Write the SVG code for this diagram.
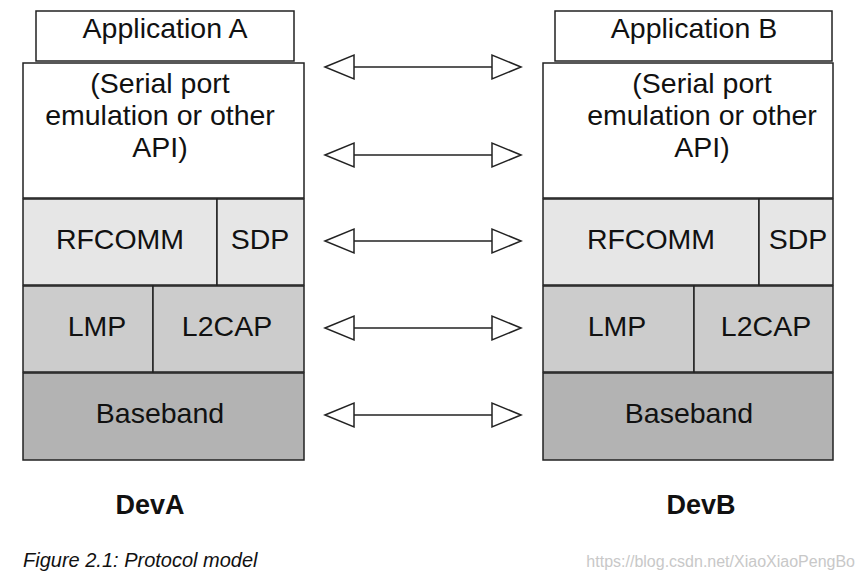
<svg xmlns="http://www.w3.org/2000/svg" width="865" height="583" viewBox="0 0 865 583">
<defs>
<style>
.b{stroke:#222;stroke-width:1.5}
.w{fill:#fff}
.l1{fill:#e6e6e6}
.l2{fill:#cccccc}
.l3{fill:#b3b3b3}
.t{font-family:"Liberation Sans",Arial,sans-serif;font-size:28.5px;fill:#111;text-anchor:middle}
.d{font-family:"Liberation Sans",Arial,sans-serif;font-size:27px;font-weight:bold;fill:#111;text-anchor:middle}
.c{stroke:#222;stroke-width:1.5;fill:none}
.h{stroke:#222;stroke-width:1.5;fill:#fff}
</style>
</defs>
<rect width="865" height="583" fill="#fff"/>
<g id="devA">
<g id="appA"><rect class="b w" x="36" y="11" width="258" height="50"/><text class="t" x="165" y="38">Application A</text></g>
<g id="apiA"><rect class="b w" x="23" y="63" width="281" height="135"/><text class="t" x="160" y="93">(Serial port</text><text class="t" x="160" y="125">emulation or other</text><text class="t" x="160" y="157">API)</text></g>
<g id="rfcommA"><rect class="b l1" x="23" y="199" width="194" height="86"/><text class="t" x="120" y="249">RFCOMM</text></g>
<g id="sdpA"><rect class="b l1" x="217" y="199" width="87" height="86"/><text class="t" x="260" y="249">SDP</text></g>
<g id="lmpA"><rect class="b l2" x="23" y="286" width="130" height="86"/><text class="t" x="97" y="336">LMP</text></g>
<g id="l2capA"><rect class="b l2" x="153" y="286" width="151" height="86"/><text class="t" x="227" y="336">L2CAP</text></g>
<g id="basebandA"><rect class="b l3" x="23" y="373" width="281" height="87"/><text class="t" x="160" y="423">Baseband</text></g>
</g>
<g id="devB">
<g id="appB"><rect class="b w" x="555" y="11" width="277" height="50"/><text class="t" x="694" y="38">Application B</text></g>
<g id="apiB"><rect class="b w" x="543" y="63" width="290" height="135"/><text class="t" x="702" y="93">(Serial port</text><text class="t" x="702" y="125">emulation or other</text><text class="t" x="702" y="157">API)</text></g>
<g id="rfcommB"><rect class="b l1" x="543" y="199" width="216" height="86"/><text class="t" x="651" y="249">RFCOMM</text></g>
<g id="sdpB"><rect class="b l1" x="759" y="199" width="74" height="86"/><text class="t" x="798" y="249">SDP</text></g>
<g id="lmpB"><rect class="b l2" x="543" y="286" width="151" height="86"/><text class="t" x="617" y="336">LMP</text></g>
<g id="l2capB"><rect class="b l2" x="694" y="286" width="139" height="86"/><text class="t" x="766" y="336">L2CAP</text></g>
<g id="basebandB"><rect class="b l3" x="543" y="373" width="290" height="87"/><text class="t" x="689" y="423">Baseband</text></g>
</g>
<g id="connectors">
<g transform="translate(0,67)"><line class="c" x1="354" y1="0" x2="492" y2="0"/><polygon class="h" points="325,0 354,-12 354,12"/><polygon class="h" points="521,0 492,-12 492,12"/></g>
<g transform="translate(0,155)"><line class="c" x1="354" y1="0" x2="492" y2="0"/><polygon class="h" points="325,0 354,-12 354,12"/><polygon class="h" points="521,0 492,-12 492,12"/></g>
<g transform="translate(0,241)"><line class="c" x1="354" y1="0" x2="492" y2="0"/><polygon class="h" points="325,0 354,-12 354,12"/><polygon class="h" points="521,0 492,-12 492,12"/></g>
<g transform="translate(0,328)"><line class="c" x1="354" y1="0" x2="492" y2="0"/><polygon class="h" points="325,0 354,-12 354,12"/><polygon class="h" points="521,0 492,-12 492,12"/></g>
<g transform="translate(0,415)"><line class="c" x1="354" y1="0" x2="492" y2="0"/><polygon class="h" points="325,0 354,-12 354,12"/><polygon class="h" points="521,0 492,-12 492,12"/></g>
</g>
<text class="d" x="150" y="514">DevA</text>
<text class="d" x="701" y="514">DevB</text>
<text x="23" y="567" font-family="'Liberation Sans',Arial,sans-serif" font-size="20" font-style="italic" fill="#111">Figure 2.1: Protocol model</text>
<text x="855" y="567" text-anchor="end" font-family="'Liberation Sans',Arial,sans-serif" font-size="16" fill="#c8c8c8">https://blog.csdn.net/XiaoXiaoPengBo</text>
</svg>
